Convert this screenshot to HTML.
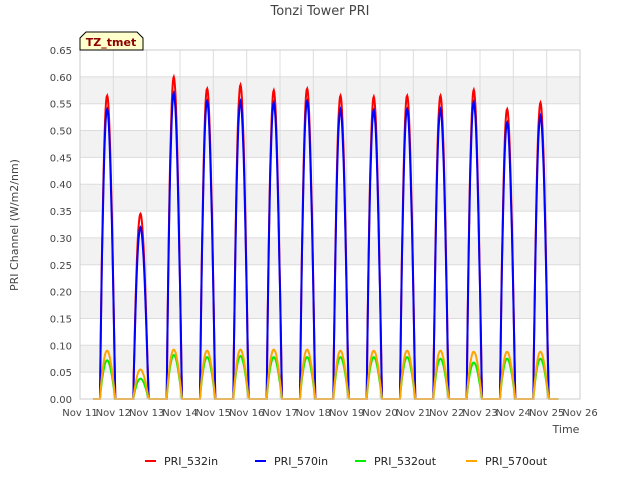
<!DOCTYPE html>
<html><head><meta charset="utf-8"><style>
body{margin:0;background:#fff;font-family:"Liberation Sans","DejaVu Sans",sans-serif}
svg text{font-family:"DejaVu Sans","Liberation Sans",sans-serif}
</style></head><body>
<svg id="c" width="640" height="480" xmlns="http://www.w3.org/2000/svg">
<rect width="640" height="480" fill="#fff"/>
<text x="320" y="15" text-anchor="middle" font-size="13" fill="#444">Tonzi Tower PRI</text>
<g id="grid"></g>
<g id="series"></g>
<g id="axes"></g>
<g>
<path d="M80,50 L80,38 L86,32 L137,32 L143,38 L143,50 Z" fill="#ffffcc" stroke="#000"/>
<text x="111" y="46" text-anchor="middle" font-size="11" font-weight="bold" fill="#8b0000">TZ_tmet</text>
</g>
<text x="566" y="433" text-anchor="middle" font-size="11" fill="#444">Time</text>
<text x="18" y="225" text-anchor="middle" font-size="11" fill="#444" transform="rotate(-90 18 225)">PRI Channel (W/m2/nm)</text>
<g id="legend"></g>
</svg>
<script>
const days=["Nov 11","Nov 12","Nov 13","Nov 14","Nov 15","Nov 16","Nov 17","Nov 18","Nov 19","Nov 20","Nov 21","Nov 22","Nov 23","Nov 24","Nov 25","Nov 26"];
const yTicks=[0,0.05,0.1,0.15,0.2,0.25,0.3,0.35,0.4,0.45,0.5,0.55,0.6,0.65];
const peak532in=[0.565,0.345,0.6,0.578,0.585,0.575,0.578,0.565,0.563,0.565,0.565,0.576,0.54,0.552];
const peak570in=[0.54,0.32,0.57,0.555,0.555,0.552,0.555,0.54,0.538,0.54,0.54,0.553,0.515,0.528];
const peak532out=[0.072,0.038,0.082,0.078,0.08,0.078,0.078,0.078,0.078,0.078,0.075,0.068,0.075,0.075];
const peak570out=[0.09,0.055,0.092,0.09,0.092,0.092,0.092,0.09,0.09,0.09,0.09,0.088,0.088,0.088];
const NS="http://www.w3.org/2000/svg";
const X0=80,X1=580,Y0=399,Y1=50;
const xs=d=>X0+(X1-X0)*d/15;
const ys=v=>Y0-(Y0-Y1)*v/0.65;
function mk(t,a,p){const e=document.createElementNS(NS,t);for(const k in a)e.setAttribute(k,a[k]);p.appendChild(e);return e;}
const grid=document.getElementById('grid'),axes=document.getElementById('axes');
for(let i=0;i<yTicks.length-1;i++){if(i%2==1){const r=mk('rect',{x:X0,y:ys(yTicks[i+1]),width:X1-X0,height:ys(yTicks[i])-ys(yTicks[i+1]),fill:'#f2f2f2'},grid);

}}
yTicks.forEach(v=>{const l=mk('line',{x1:X0,x2:X1,y1:ys(v),y2:ys(v),stroke:'#dcdcdc'},grid);


const t=mk('text',{x:X0-8,y:ys(v)+4,'text-anchor':'end','font-size':10,fill:'#444'},axes);t.textContent=v.toFixed(2);

});
days.forEach((d,i)=>{const l=mk('line',{x1:xs(i),x2:xs(i),y1:Y1,y2:Y0,stroke:'#dcdcdc'},grid);


const t=mk('text',{x:xs(i),y:Y0+17,'text-anchor':'middle','font-size':10,fill:'#444'},axes);t.textContent=d;

});
const fr=mk('rect',{x:X0,y:Y1,width:X1-X0,height:Y0-Y1,fill:'none',stroke:'#ccc'},axes);


function path(peaks){let d='M'+xs(0.4)+','+ys(0);
peaks.forEach((p,i)=>{const a=i+0.6,b=i+1.06;d+=' L'+xs(a)+','+ys(0);
for(let k=1;k<=30;k++){const t=k/30;d+=' L'+xs(a+(b-a)*t).toFixed(1)+','+ys(p*Math.pow(Math.sin(Math.PI*Math.pow(t,0.9)),1.0)).toFixed(1);}
d+=' L'+xs(b)+','+ys(0);});
d+=' L'+xs(14.35)+','+ys(0);return d;}
const series=[["PRI_532in",peak532in,"#ff0000"],["PRI_570in",peak570in,"#0000ff"],["PRI_532out",peak532out,"#00ee00"],["PRI_570out",peak570out,"#ffa500"]];
const sg=document.getElementById('series'),lg=document.getElementById('legend');
const lx=[145,255,355,466];
series.forEach((s,i)=>{const p=mk('path',{d:path(s[1]),fill:'none',stroke:s[2],'stroke-width':2},sg);


const g=mk('g',{},lg);


mk('line',{x1:lx[i],x2:lx[i]+11,y1:461,y2:461,stroke:s[2],'stroke-width':2},g);
const t=mk('text',{x:lx[i]+19,y:465,'font-size':11,fill:'#222'},g);t.textContent=s[0];});
</script>
</body></html>
